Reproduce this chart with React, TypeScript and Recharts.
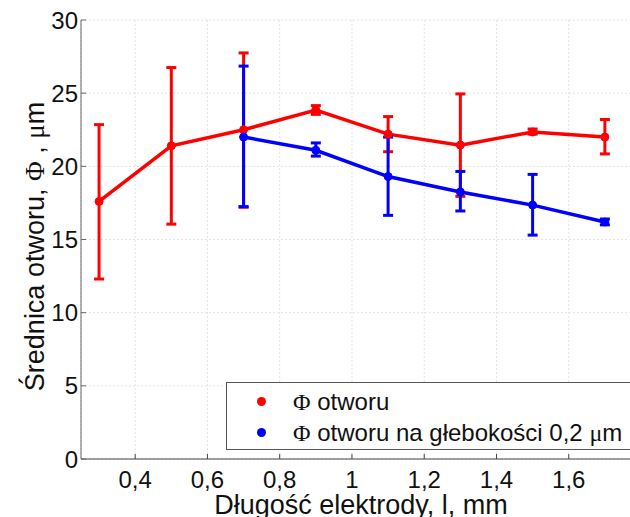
import { LineChart, Line, XAxis, YAxis, CartesianGrid, ErrorBar, Legend } from 'recharts'

const FONT = '"Liberation Sans", Arial, sans-serif'
const SYMBOL_FONT = '"Liberation Serif", "DejaVu Serif", serif'

// electrode length, mm
const holeX = [0.3, 0.5, 0.7, 0.9, 1.1, 1.3, 1.5, 1.7]
const holeMean = [17.6, 21.4, 22.5, 23.85, 22.2, 21.45, 22.35, 22.0]
const holeLow = [12.3, 16.05, 17.2, 23.55, 21.0, 17.95, 22.2, 20.85]
const holeHigh = [22.85, 26.75, 27.75, 24.15, 23.4, 24.95, 22.55, 23.2]

const depthX = [0.7, 0.9, 1.1, 1.3, 1.5, 1.7]
const depthMean = [22.0, 21.1, 19.3, 18.25, 17.35, 16.2]
const depthLow = [17.25, 20.7, 16.65, 16.95, 15.3, 16.0]
const depthHigh = [26.85, 21.6, 22.0, 19.65, 19.45, 16.4]

const xTicks = [0.4, 0.6, 0.8, 1, 1.2, 1.4, 1.6]
const yTicks = [0, 5, 10, 15, 20, 25, 30]

const holeData = holeX.map((x, i) => ({
  x,
  y: holeMean[i],
  err: [holeMean[i] - holeLow[i], holeHigh[i] - holeMean[i]]
}))

const depthData = depthX.map((x, i) => ({
  x,
  y: depthMean[i],
  err: [depthMean[i] - depthLow[i], depthHigh[i] - depthMean[i]]
}))

const fmtX = (v: number) => String(v).replace('.', ',')

// wrap Φ and μ in a serif font, like the symbol font of the original
function withSymbols(text: string) {
  return text.split(/([Φμ])/).map((part, i) =>
    part === 'Φ' || part === 'μ'
      ? <span key={i} style={{ fontFamily: SYMBOL_FONT }}>{part}</span>
      : part
  )
}

function LegendBox({ payload }: any) {
  return (
    <div
      style={{
        border: '1px solid #555',
        background: '#fff',
        height: 68,
        boxSizing: 'border-box',
        paddingTop: 3,
        fontFamily: FONT,
        fontSize: 24,
        color: '#111'
      }}
    >
      {(payload || []).map((entry: any) => (
        <div key={entry.value} style={{ display: 'flex', alignItems: 'center', height: 31, whiteSpace: 'nowrap' }}>
          <span
            style={{
              width: 9,
              height: 9,
              borderRadius: '50%',
              background: entry.color,
              marginLeft: 30,
              marginRight: 27,
              flexShrink: 0
            }}
          />
          <span>{withSymbols(entry.value)}</span>
        </div>
      ))}
    </div>
  )
}

const YLabel = ({ viewBox }: any) => {
  const cy = viewBox.y + viewBox.height / 2 + 7
  return (
    <text
      x={35}
      y={cy}
      transform={`rotate(-90, 35, ${cy})`}
      textAnchor="middle"
      dominantBaseline="central"
      fontSize={27}
      fontFamily={FONT}
      fill="#111"
    >
      Średnica otworu, <tspan fontFamily={SYMBOL_FONT}>Φ</tspan> , <tspan fontFamily={SYMBOL_FONT}>μ</tspan>m
    </text>
  )
}

const XLabel = ({ viewBox }: any) => (
  <text
    x={viewBox.x + viewBox.width / 2}
    y={514}
    textAnchor="middle"
    fontSize={27}
    fontFamily={FONT}
    fill="#111"
  >
    Długość elektrody, l, mm
  </text>
)

export default function App() {
  return (
    <div style={{ position: 'absolute', left: 0, top: 0, width: 630, height: 517, overflow: 'hidden', background: '#fff' }}>
      <LineChart width={660} height={517} margin={{ top: 20, right: 19, bottom: 0, left: 0 }}>
        <CartesianGrid stroke="#e4e4e4" strokeDasharray="2 2" />
        <XAxis
          dataKey="x"
          type="number"
          domain={[0.25, 1.8]}
          ticks={xTicks}
          tickFormatter={fmtX}
          height={58}
          stroke="#444"
          tickSize={-5}
          tickMargin={17}
          tick={{ fontSize: 24, fill: '#111', fontFamily: FONT }}
          label={<XLabel />}
        />
        <XAxis
          xAxisId="top"
          orientation="top"
          type="number"
          domain={[0.25, 1.8]}
          ticks={xTicks}
          height={0}
          stroke="#333"
          tickSize={-5}
          tick={false}
        />
        <YAxis
          type="number"
          domain={[0, 30]}
          ticks={yTicks}
          width={81}
          stroke="#666"
          tickSize={-5}
          tickMargin={8}
          tick={{ fontSize: 24, fill: '#111', fontFamily: FONT }}
          label={<YLabel />}
        />
        <Legend
          layout="horizontal"
          verticalAlign="middle"
          align="center"
          wrapperStyle={{ left: 226, top: 382, width: 430, height: 68 }}
          content={<LegendBox />}
        />
        <Line
          data={holeData}
          dataKey="y"
          name="Φ otworu"
          stroke="#ff0000"
          strokeWidth={3.5}
          dot={{ r: 4, fill: '#ff0000', stroke: '#ff0000', strokeWidth: 1 }}
          activeDot={false}
          isAnimationActive={false}
        >
          <ErrorBar dataKey="err" direction="y" width={5} strokeWidth={3} stroke="#ff0000" isAnimationActive={false} />
        </Line>
        <Line
          data={depthData}
          dataKey="y"
          name="Φ otworu na głebokości 0,2 μm"
          stroke="#0000ff"
          strokeWidth={3.5}
          dot={{ r: 4, fill: '#0000ff', stroke: '#0000ff', strokeWidth: 1 }}
          activeDot={false}
          isAnimationActive={false}
        >
          <ErrorBar dataKey="err" direction="y" width={5} strokeWidth={3} stroke="#0000ff" isAnimationActive={false} />
        </Line>
      </LineChart>
    </div>
  )
}
